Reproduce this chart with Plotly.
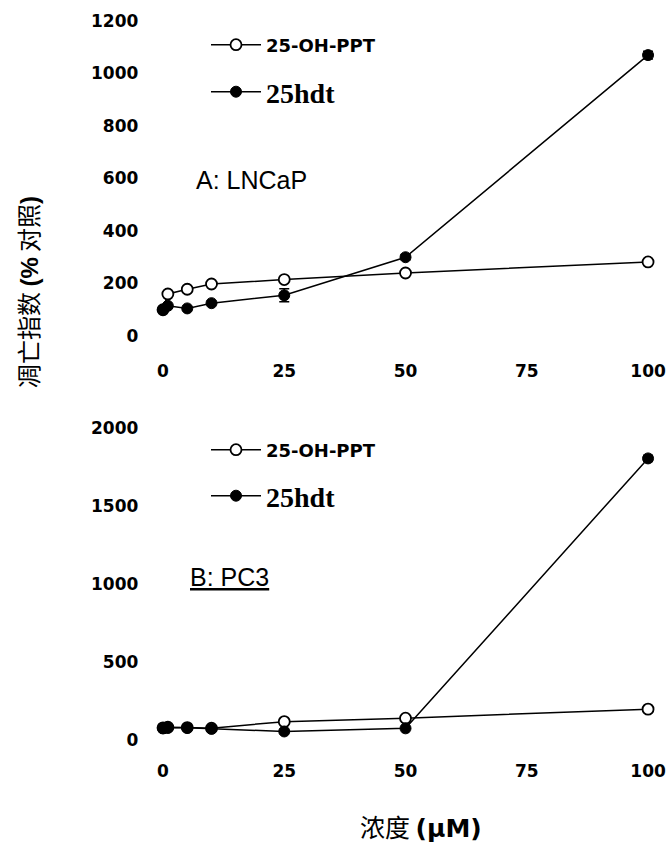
import plotly.graph_objects as go

# ---------------- data ----------------
conc = [0, 1, 5, 10, 25, 50, 100]

a_ppt = [100, 160, 178, 198, 215, 240, 282]
a_ppt_err = [0, 0, 0, 0, 0, 0, 8]
a_hdt = [100, 115, 105, 125, 155, 300, 1070]
a_hdt_err = [0, 0, 0, 0, 25, 10, 15]

b_ppt = [78, 82, 80, 76, 118, 140, 198]
b_ppt_err = [0, 0, 0, 0, 0, 0, 10]
b_hdt = [75, 78, 78, 72, 55, 75, 1805]
b_hdt_err = [0, 0, 0, 0, 0, 0, 20]

x_ticks = [0, 25, 50, 75, 100]
a_yticks = [0, 200, 400, 600, 800, 1000, 1200]
b_yticks = [0, 500, 1000, 1500, 2000]

names = ["25-OH-PPT", "25hdt"]
panel_labels = ["A: LNCaP", "<u>B: PC3</u>"]

W, H = 669, 853

fig = go.Figure()

def open_trace(x, y, err, xa, ya, leg):
    return go.Scatter(
        x=x, y=y, mode="lines+markers", name=names[0], legend=leg,
        xaxis=xa, yaxis=ya,
        line=dict(color="black", width=1.5),
        marker=dict(symbol="circle", size=11, color="white",
                    line=dict(color="black", width=1.8)),
        error_y=dict(type="data", array=err, visible=True, color="black",
                     thickness=1.5, width=5),
    )

def fill_trace(x, y, err, xa, ya, leg):
    return go.Scatter(
        x=x, y=y, mode="lines+markers", name=names[1], legend=leg,
        xaxis=xa, yaxis=ya,
        line=dict(color="black", width=1.5),
        marker=dict(symbol="circle", size=11, color="black",
                    line=dict(color="black", width=1)),
        error_y=dict(type="data", array=err, visible=True, color="black",
                     thickness=1.5, width=5),
    )

fig.add_trace(open_trace(conc, a_ppt, a_ppt_err, "x", "y", "legend"))
fig.add_trace(fill_trace(conc, a_hdt, a_hdt_err, "x", "y", "legend2"))
fig.add_trace(open_trace(conc, b_ppt, b_ppt_err, "x2", "y2", "legend3"))
fig.add_trace(fill_trace(conc, b_hdt, b_hdt_err, "x2", "y2", "legend4"))

tickfont = dict(family="DejaVu Sans", size=17, color="black", weight="bold")
xd = [153.3 / W, 662.6 / W]

common_x = dict(range=[-2, 103], tickvals=x_ticks, showline=False, showgrid=False,
                zeroline=False, ticks="", tickfont=tickfont, ticklabelstandoff=10,
                domain=xd, automargin=False)
common_y = dict(showline=False, showgrid=False, zeroline=False, ticks="",
                tickfont=tickfont, ticklabelstandoff=14, automargin=False)

fig.update_layout(
    template="none",
    width=W, height=H,
    margin=dict(l=0, r=0, t=0, b=0, pad=0, autoexpand=False),
    paper_bgcolor="white", plot_bgcolor="white",
    font=dict(color="black"),
    xaxis=dict(common_x, anchor="y"),
    yaxis=dict(common_y, range=[-50, 1230], tickvals=a_yticks,
               domain=[1 - 349.1 / H, 1 - 13.1 / H], anchor="x"),
    xaxis2=dict(common_x, anchor="y2"),
    yaxis2=dict(common_y, range=[-60, 2030], tickvals=b_yticks,
                domain=[1 - 749.4 / H, 1 - 423.3 / H], anchor="x2"),
    showlegend=True,
)

leg_small = dict(family="DejaVu Sans", size=18, color="black", weight="bold")
leg_big = dict(family="Liberation Serif", size=28, color="black", weight="bold")
lx = 206 / W
fig.update_layout(
    legend=dict(x=lx, y=1 - 45 / H, xanchor="left", yanchor="middle",
                bgcolor="rgba(0,0,0,0)", font=leg_small, itemwidth=50),
    legend2=dict(x=lx, y=1 - 92 / H, xanchor="left", yanchor="middle",
                 bgcolor="rgba(0,0,0,0)", font=leg_big, itemwidth=50),
    legend3=dict(x=lx, y=1 - 450 / H, xanchor="left", yanchor="middle",
                 bgcolor="rgba(0,0,0,0)", font=leg_small, itemwidth=50),
    legend4=dict(x=lx, y=1 - 496 / H, xanchor="left", yanchor="middle",
                 bgcolor="rgba(0,0,0,0)", font=leg_big, itemwidth=50),
)

fig.add_annotation(text=panel_labels[0], x=252 / W, y=1 - 180 / H, xref="paper",
                   yref="paper", showarrow=False, xanchor="center", yanchor="middle",
                   font=dict(family="Liberation Sans", size=25, color="black"))
fig.add_annotation(text=panel_labels[1], x=229 / W, y=1 - 577 / H, xref="paper",
                   yref="paper", showarrow=False, xanchor="center", yanchor="middle",
                   font=dict(family="Liberation Sans", size=25, color="black"))

fig.add_annotation(
    text="凋亡指数 <span style='font-family:Liberation Sans;font-weight:bold'>(%</span> 对照<span style='font-family:Liberation Sans;font-weight:bold'>)</span>",
    x=27 / W, y=1 - 292 / H, xref="paper", yref="paper", showarrow=False,
    xanchor="center", yanchor="middle",
    textangle=-90, font=dict(family="Noto Sans CJK SC", size=24, color="black"))

fig.add_annotation(
    text="浓度 <span style='font-family:DejaVu Sans;font-weight:bold'>(μM)</span>",
    x=421 / W, y=1 - 826 / H, xref="paper", yref="paper", showarrow=False,
    xanchor="center", yanchor="middle",
    font=dict(family="Noto Sans CJK SC", size=25, color="black"))

fig.write_html("out.html", config={"displayModeBar": False},
               post_script="document.body.style.margin='0px';")
